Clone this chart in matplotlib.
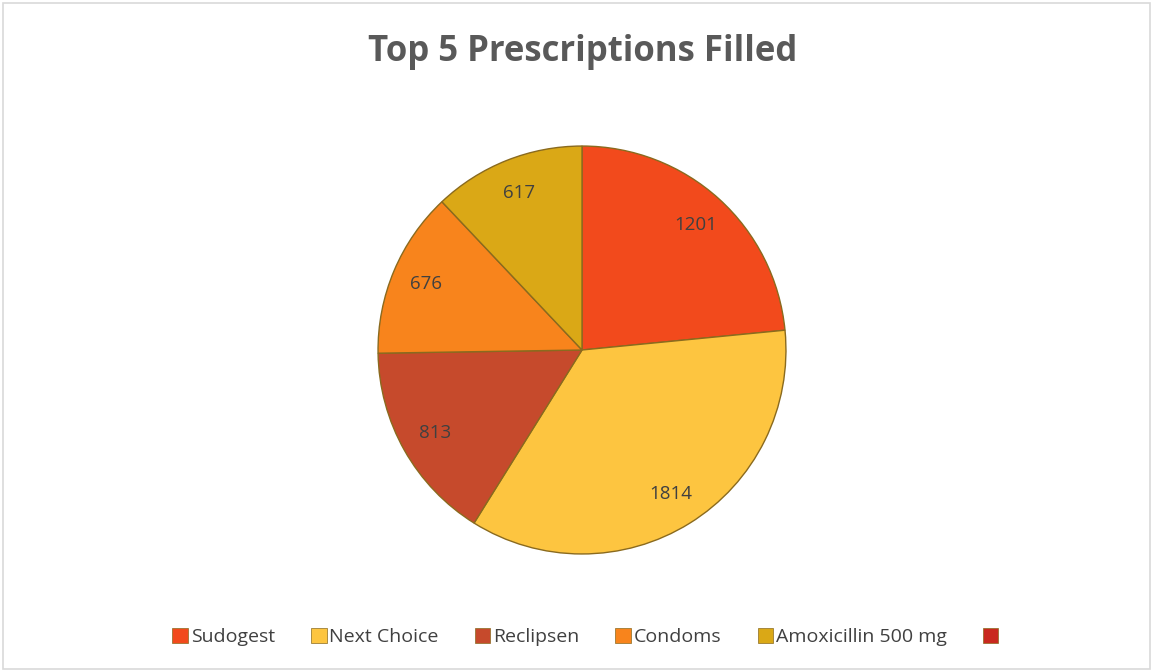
import matplotlib.pyplot as plt
from matplotlib.patches import Patch, Rectangle

# Data
drugs = ['Sudogest', 'Next Choice', 'Reclipsen', 'Condoms', 'Amoxicillin 500 mg']
filled = [1201, 1814, 813, 676, 617]
colors = ['#F24A1C', '#FDC540', '#C64A2C', '#F8841C', '#DAA816']
extra_color = '#C9281E'

plt.rcParams['font.family'] = ['Open Sans', 'DejaVu Sans']

fig = plt.figure(figsize=(11.53, 6.71), dpi=100)
fig.patches.append(Rectangle((0.003, 0.003), 0.994, 0.992, transform=fig.transFigure,
                             fill=False, edgecolor='#D9D9D9', linewidth=1.2))

fig.text(0.505, 0.922, 'Top 5 Prescriptions Filled', ha='center', va='center',
         fontsize=25, fontweight='bold', color='#595959')

cx, cy, r = 582, 350, 206
W, H = 1153, 671
ax = fig.add_axes([(cx - r) / W, (H - cy - r) / H, 2 * r / W, 2 * r / H])
wedges, texts = ax.pie(filled, labels=[str(v) for v in filled], colors=colors,
                       startangle=90, counterclock=False, labeldistance=0.83,
                       wedgeprops=dict(edgecolor='#8A6A1E', linewidth=1.0),
                       textprops=dict(fontsize=13.5, color='#404040'))
for t in texts:
    t.set_ha('center')
    t.set_va('center')
ax.set_aspect('equal')
ax.set_xlim(-1.01, 1.01)
ax.set_ylim(-1.01, 1.01)

handles = [Patch(facecolor=c, edgecolor='#8A6A1E', linewidth=0.5) for c in colors + [extra_color]]
fig.legend(handles, drugs + [''], loc='center', bbox_to_anchor=(0.509, 0.051), ncol=6,
           frameon=False, fontsize=14, labelcolor='#404040', handlelength=0.8,
           handleheight=0.8, handletextpad=0.15, columnspacing=1.85)

fig.savefig('out.png', dpi=100)
